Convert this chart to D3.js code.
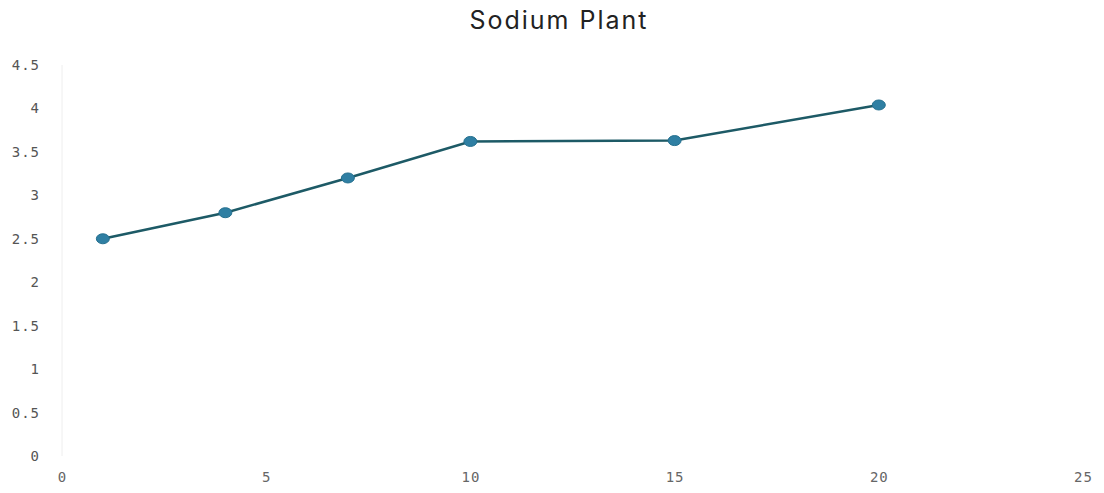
<!DOCTYPE html>
<html><head><meta charset="utf-8">
<script src="https://cdn.jsdelivr.net/npm/d3@7"></script>
<style>body{margin:0;background:#fff}svg{display:block}</style>
</head><body>
<div id="chart"></div>
<script>
const title = "Sodium Plant";
const xValues = [1, 4, 7, 10, 15, 20];
const yValues = [2.5, 2.8, 3.2, 3.62, 3.63, 4.04];
const xTicks = [0, 5, 10, 15, 20, 25];
const yTicks = [0, 0.5, 1, 1.5, 2, 2.5, 3, 3.5, 4, 4.5];

const W = 1104, H = 493;
const svg = d3.select("#chart").append("svg").attr("width", W).attr("height", H);
const x = d3.scaleLinear().domain([0, 25]).range([62, 1083]);
const y = d3.scaleLinear().domain([0, 4.5]).range([456, 65]);

svg.append("text").attr("x", 559).attr("y", 29).attr("text-anchor", "middle")
  .attr("font-family", "Inter, 'Open Sans', sans-serif").attr("font-size", 25)
  .attr("letter-spacing", 2).attr("fill", "#222").text(title);

// faint y axis line
svg.append("line").attr("x1", x(0)).attr("x2", x(0)).attr("y1", y(4.5)).attr("y2", y(0))
  .attr("stroke", "#eee").attr("stroke-width", 1);

const yAxis = d3.axisLeft(y).tickValues(yTicks).tickSize(0).tickPadding(0).tickFormat(d => String(d));
const gy = svg.append("g").attr("transform", "translate(40,0)").call(yAxis);
gy.select(".domain").remove();
gy.selectAll("text").attr("font-family", "'DejaVu Sans Mono', monospace").attr("font-size", 14)
  .attr("letter-spacing", 1).attr("fill", "#555");

const xAxis = d3.axisBottom(x).tickValues(xTicks).tickSize(0).tickPadding(0).tickFormat(d => String(d));
const gx = svg.append("g").attr("transform", "translate(0,472)").call(xAxis);
gx.select(".domain").remove();
gx.selectAll("text").attr("font-family", "'DejaVu Sans Mono', monospace").attr("font-size", 14)
  .attr("letter-spacing", 1).attr("fill", "#666");

const data = xValues.map((v, i) => ({x: v, y: yValues[i]}));
const line = d3.line().x(d => x(d.x)).y(d => y(d.y));
svg.append("path").datum(data).attr("d", line).attr("fill", "none")
  .attr("stroke", "#1d5a66").attr("stroke-width", 2.5);
svg.selectAll("ellipse.pt").data(data).enter().append("ellipse").attr("class", "pt")
  .attr("cx", d => x(d.x)).attr("cy", d => y(d.y)).attr("rx", 6.5).attr("ry", 5)
  .attr("fill", "#2f7fa3").attr("stroke", "#25708f").attr("stroke-width", 1);
</script>
</body></html>
